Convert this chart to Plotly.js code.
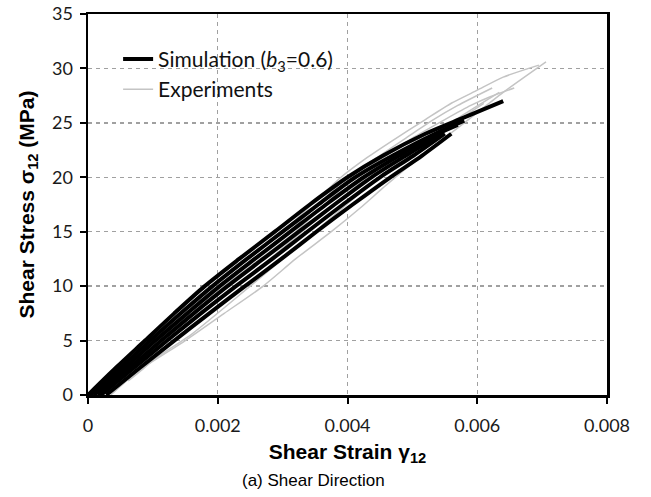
<!DOCTYPE html>
<html>
<head>
<meta charset="utf-8">
<script src="https://cdn.plot.ly/plotly-3.0.1.min.js"></script>
<style>
  html, body { margin: 0; padding: 0; background: #fff; }
  #chart { width: 651px; height: 497px; }
</style>
</head>
<body>
<div id="chart"></div>
<script>
// Shear stress-strain response: simulated curves (b3 = 0.6) and measured specimens.
const simStrain = [
  [0, 0.00043, 0.00088, 0.00133, 0.0018, 0.00233, 0.00288, 0.00342, 0.0040, 0.00455, 0.0052, 0.0058, 0.0064],
  [0.00004, 0.0005, 0.00096, 0.00143, 0.00192, 0.00245, 0.0030, 0.00355, 0.00412, 0.0047, 0.00535, 0.0058],
  [0.00009, 0.00057, 0.00104, 0.00153, 0.00203, 0.00257, 0.00312, 0.00367, 0.00425, 0.0048, 0.0054, 0.0057],
  [0.00015, 0.00064, 0.00113, 0.00163, 0.00215, 0.0027, 0.00325, 0.0038, 0.00437, 0.0049, 0.00545],
  [0.0002, 0.00071, 0.00122, 0.00174, 0.00228, 0.00284, 0.00338, 0.00393, 0.0045, 0.00502, 0.0055],
  [0.00028, 0.0008, 0.00133, 0.00187, 0.00242, 0.00298, 0.00352, 0.00408, 0.00466, 0.00515, 0.0056]
];
const simStress = [
  [0, 2.5, 5, 7.5, 10, 12.5, 15, 17.5, 20, 22, 24, 25.5, 27.0],
  [0, 2.5, 5, 7.5, 10, 12.5, 15, 17.5, 20, 22, 24, 25.2],
  [0, 2.5, 5, 7.5, 10, 12.5, 15, 17.5, 20, 22, 24, 24.8],
  [0, 2.5, 5, 7.5, 10, 12.5, 15, 17.5, 20, 22, 24],
  [0, 2.5, 5, 7.5, 10, 12.5, 15, 17.5, 20, 22, 24],
  [0, 2.5, 5, 7.5, 10, 12.5, 15, 17.5, 20, 22, 24]
];
const expStrain = [
  [0.00035, 0.00065, 0.0009, 0.0015, 0.0021, 0.0027, 0.0032, 0.00375, 0.0042, 0.0046, 0.00515, 0.0058, 0.0064, 0.00706],
  [0, 0.00045, 0.0009, 0.0014, 0.0019, 0.00245, 0.0030, 0.00345, 0.0039, 0.0043, 0.0047, 0.0052, 0.0056, 0.0060, 0.0064, 0.00695],
  [0.00008, 0.0010, 0.0020, 0.00255, 0.0031, 0.0040, 0.0045, 0.0049, 0.0053, 0.0057, 0.00623],
  [0.00015, 0.0011, 0.0021, 0.0032, 0.0041, 0.0046, 0.0050, 0.0055, 0.0059, 0.0062, 0.00657],
  [0.0002, 0.0012, 0.0023, 0.0033, 0.0043, 0.0048, 0.0052, 0.0058, 0.00634],
  [0.00062, 0.00085, 0.001, 0.0016, 0.0025, 0.0035, 0.0044, 0.0049, 0.0053, 0.0057, 0.0061]
];
const expStress = [
  [0, 1.6, 2.7, 5, 7.5, 10, 12.5, 15, 17.2, 19.3, 22, 25, 27.8, 30.6],
  [0, 2.5, 5, 7.5, 10, 12.5, 15, 17.5, 20, 21.8, 23.4, 25.3, 26.8, 28, 29.2, 30.3],
  [0, 5, 10, 12.5, 15, 20, 22, 23.6, 25.2, 26.6, 28.2],
  [0, 5, 10, 15, 20, 22, 23.6, 25.3, 26.6, 27.4, 28.2],
  [0, 5, 10, 15, 20, 22, 23.4, 25.8, 27.8],
  [1.3, 2.4, 3.2, 5.6, 10, 15, 19.6, 21.8, 23.4, 25.2, 26.8]
];
const xTicks = [0, 0.002, 0.004, 0.006, 0.008];
const xTickText = ['0', '0.002', '0.004', '0.006', '0.008'];
const yTicks = [0, 5, 10, 15, 20, 25, 30, 35];

const traces = [];
expStrain.forEach((xs, i) => {
  traces.push({
    x: xs, y: expStress[i], type: 'scatter', mode: 'lines',
    name: 'Experiments', legendgroup: 'exp', legendrank: 2,
    showlegend: i === 0,
    line: { color: '#c4c4c4', width: 1.5, shape: 'spline', smoothing: 0.6 }
  });
});
simStrain.forEach((xs, i) => {
  traces.push({
    x: xs, y: simStress[i], type: 'scatter', mode: 'lines',
    name: 'Simulation (<i>b</i><sub>3</sub>=0.6)', legendgroup: 'sim', legendrank: 1,
    showlegend: i === 0,
    line: { color: '#000000', width: 4, shape: 'spline', smoothing: 0.8 }
  });
});

const tickFont = { family: 'Lato, "Noto Sans", sans-serif', size: 18, color: '#1a1a1a' };
const titleFont = { family: '"Liberation Sans", Arial, sans-serif', size: 21, color: '#000', weight: 'bold' };

const layout = {
  width: 651, height: 497,
  margin: { l: 88, r: 44, t: 14, b: 102 },
  paper_bgcolor: '#fff', plot_bgcolor: '#fff',
  showlegend: true,
  legend: {
    x: 0.058, y: 0.935, xanchor: 'left', yanchor: 'top',
    bgcolor: 'rgba(0,0,0,0)', borderwidth: 0,
    font: { family: 'Lato, "Noto Sans", sans-serif', size: 21, color: '#111' },
    tracegroupgap: 4, traceorder: 'normal'
  },
  xaxis: {
    range: [0, 0.008], tickvals: xTicks, ticktext: xTickText,
    showline: true, mirror: true, linecolor: '#000', linewidth: 2.5,
    ticks: 'outside', ticklen: 6, tickwidth: 2, tickcolor: '#000',
    ticklabelstandoff: 7,
    showgrid: true, gridcolor: '#a0a0a0', gridwidth: 1.3, griddash: '4px,4px',
    zeroline: false, tickfont: tickFont,
    title: { text: 'Shear Strain γ<sub>12</sub>', font: titleFont, standoff: 9 }
  },
  yaxis: {
    range: [0, 35], tickvals: yTicks,
    showline: true, mirror: true, linecolor: '#000', linewidth: 2.5,
    ticks: 'outside', ticklen: 6, tickwidth: 2, tickcolor: '#000',
    ticklabelstandoff: 3,
    showgrid: true, gridcolor: '#a0a0a0', gridwidth: 1.3, griddash: '4px,4px',
    zeroline: false, tickfont: tickFont,
    title: { text: 'Shear Stress σ<sub>12</sub> (MPa)', font: titleFont, standoff: 12 }
  },
  annotations: [{
    text: '(a) Shear Direction', xref: 'paper', yref: 'paper',
    x: 0.435, y: -0.225, xanchor: 'center', yanchor: 'middle', showarrow: false,
    font: { family: '"Liberation Sans", Arial, sans-serif', size: 17, color: '#000' }
  }]
};

Plotly.newPlot('chart', traces, layout, { displayModeBar: false, staticPlot: true });
</script>
</body>
</html>
